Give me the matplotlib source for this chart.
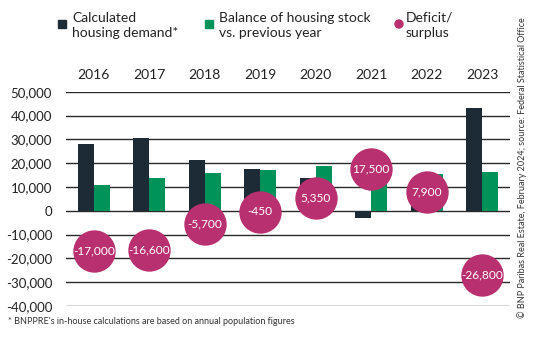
import matplotlib.pyplot as plt
from matplotlib.patches import Ellipse
import numpy as np

YEARS = ['2016', '2017', '2018', '2019', '2020', '2021', '2022', '2023']
DEMAND = [27900, 30400, 21400, 17400, 13600, -2900, 7400, 43200]
BALANCE = [10800, 13700, 15700, 17000, 18900, 14600, 15300, 16400]
DEFICIT = [-17000, -16600, -5700, -450, 5350, 17500, 7900, -26800]
DEFICIT_LABELS = ['-17,000', '-16,600', '-5,700', '-450', '5,350', '17,500', '7,900', '-26,800']
YTICKS = list(range(-40000, 50001, 10000))

DARK = '#1d2b36'
GREEN = '#009359'
MAGENTA = '#b8306f'
FONT = 'Lato'

fig = plt.figure(figsize=(5.5, 3.53), dpi=100)
ax = fig.add_axes([0.12, 0.133, 0.807, 0.607])

x = np.arange(len(YEARS))
w = 0.29
ax.bar(x - w / 2, DEMAND, w, color=DARK, zorder=2)
ax.bar(x + w / 2, BALANCE, w, color=GREEN, zorder=2)
ax.scatter(x, DEFICIT, s=930, color=MAGENTA, zorder=3, clip_on=False, linewidths=0)
for xi, v, lab in zip(x, DEFICIT, DEFICIT_LABELS):
    ax.text(xi, v, lab, ha='center', va='center', color='white', fontsize=8.6,
            family=FONT, zorder=4)

# axes
ax.set_xlim(-0.5, 7.5)
ax.set_ylim(-40000, 50000)
ax.set_yticks(YTICKS)
ax.set_yticklabels(['{:,}'.format(t) for t in YTICKS], family=FONT, fontsize=9.5, color='#222222')
ax.xaxis.tick_top()
ax.set_xticks(x)
ax.set_xticklabels(YEARS, family=FONT, fontsize=10, color='#222222')
ax.tick_params(axis='both', length=0)
ax.tick_params(axis='x', pad=8)
ax.tick_params(axis='y', pad=10)
ax.grid(axis='y', color='#2a2a2a', linewidth=1.0, zorder=0)
ax.set_axisbelow(True)
for s in ax.spines.values():
    s.set_visible(False)

# legend
fig.patches.append(plt.Rectangle((58 / 550, 1 - 28 / 353), 8 / 550, 8 / 353,
                                 color=DARK, transform=fig.transFigure))
fig.text(72 / 550, 1 - 12 / 353, 'Calculated\nhousing demand*', va='top', ha='left',
         family=FONT, fontsize=10, color='#222222', linespacing=1.3)
fig.patches.append(plt.Rectangle((205 / 550, 1 - 28 / 353), 8 / 550, 8 / 353,
                                 color=GREEN, transform=fig.transFigure))
fig.text(219 / 550, 1 - 12 / 353, 'Balance of housing stock\nvs. previous year', va='top',
         ha='left', family=FONT, fontsize=10, color='#222222', linespacing=1.3)
fig.patches.append(Ellipse((399 / 550, 1 - 24 / 353), 8 / 550, 8 / 353, color=MAGENTA,
                           transform=fig.transFigure))
fig.text(406 / 550, 1 - 12 / 353, 'Deficit/\nsurplus', va='top', ha='left',
         family=FONT, fontsize=10, color='#222222', linespacing=1.3)

fig.text(8 / 550, 1 - 322 / 353, "* BNPPRE's in-house calculations are based on annual population figures",
         va='center', ha='left', family=FONT, fontsize=6.5, color='#333333')
fig.text(522 / 550, 1 - 318 / 353,
         '© BNP Paribas Real Estate, February 2024; source: Federal Statistical Office',
         rotation=90, va='bottom', ha='center', family=FONT, fontsize=6.5, color='#333333')

fig.savefig('out.png', dpi=100)
